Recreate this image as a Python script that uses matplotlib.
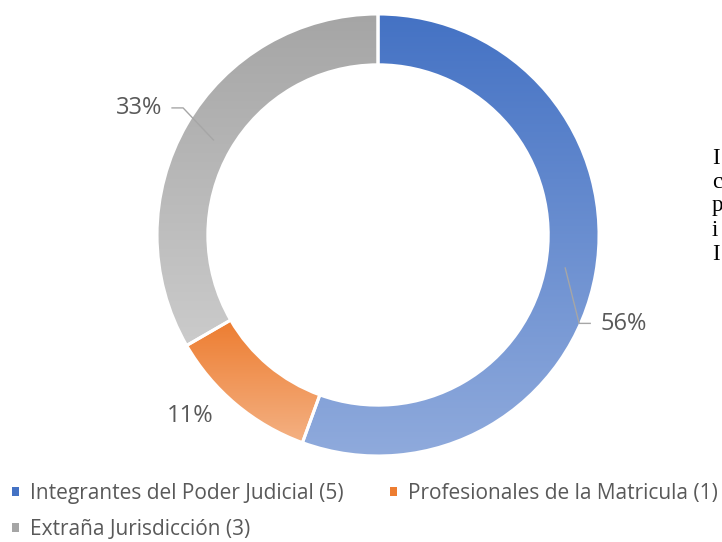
import numpy as np
import matplotlib.pyplot as plt
from matplotlib.patches import Patch
from matplotlib.colors import LinearSegmentedColormap

# === Datos ===
categorias = ['Integrantes del Poder Judicial (5)', 'Profesionales de la Matricula (1)', 'Extraña Jurisdicción (3)']
valores = [5, 1, 3]
etiquetas = ['56%', '11%', '33%']
color_arriba = ['#4472C4', '#ED7D31', '#A5A5A5']
color_abajo = ['#8FAADC', '#F4B183', '#CBCBCB']
texto_derecha = ['I', 'c', 'p', 'i', 'I']

gris_texto = '#595959'

fig = plt.figure(figsize=(7.22, 5.42), dpi=100)
ax = fig.add_axes([0.2175, 0.1587, 0.6122, 0.8155])
ax.set_xlim(-1, 1)
ax.set_ylim(-1, 1)
ax.set_aspect('equal')
ax.axis('off')

# === Dona ===
wedges, _ = ax.pie(valores, startangle=90, counterclock=False, radius=1,
                   wedgeprops=dict(width=0.23, edgecolor='white', linewidth=2.2))

gradiente = np.linspace(0, 1, 256).reshape(-1, 1)
for w, c1, c2 in zip(wedges, color_arriba, color_abajo):
    cmap = LinearSegmentedColormap.from_list('g', [c1, c2])
    bb = w.get_path().get_extents()
    img = ax.imshow(gradiente, cmap=cmap, aspect='auto', origin='upper',
                    extent=(bb.x0, bb.x1, bb.y0, bb.y1), zorder=1)
    img.set_clip_path(w)
    w.set_facecolor('none')
    w.set_zorder(3)

ax.set_xlim(-1, 1)
ax.set_ylim(-1, 1)

# === Etiquetas ===
def punto(w, r):
    ang = np.deg2rad((w.theta1 + w.theta2) / 2)
    return r * np.cos(ang), r * np.sin(ang)

fuente = dict(fontsize=17, color=gris_texto, family='Open Sans')

# 56% (con guia)
x0, y0 = punto(wedges[0], 0.86)
ax.plot([x0, 0.91, 0.96], [y0, -0.40, -0.40], color='#A6A6A6', lw=1, zorder=4)
ax.text(1.005, -0.405, etiquetas[0], ha='left', va='center', **fuente)

# 11%
ax.text(-0.85, -0.82, etiquetas[1], ha='center', va='center', **fuente)

# 33% (con guia)
x0, y0 = punto(wedges[2], 0.86)
ax.plot([x0, -0.882, -0.932], [y0, 0.575, 0.575], color='#A6A6A6', lw=1, zorder=4)
ax.text(-0.975, 0.575, etiquetas[2], ha='right', va='center', **fuente)

# === Leyenda (orden por filas) ===
orden = [0, 2, 1]
handles = [Patch(facecolor=color_arriba[i], edgecolor='none') for i in orden]
fig.legend(handles, [categorias[i] for i in orden], ncol=2, loc='upper left',
           bbox_to_anchor=(12 / 722, 1 - 483 / 542), borderpad=0, borderaxespad=0,
           frameon=False, handlelength=0.33, handleheight=0.33,
           handletextpad=0.55, columnspacing=2.2, labelspacing=0.72,
           labelcolor=gris_texto, prop={'family': 'Open Sans', 'size': 15})

# === Texto cortado a la derecha ===
for i, t in enumerate(texto_derecha):
    fig.text(712 / 722, 1 - (158 + i * 24) / 542, t, ha='left', va='center',
             fontsize=16.5, family='Liberation Serif', color='black')

fig.savefig('out.png', dpi=100)
